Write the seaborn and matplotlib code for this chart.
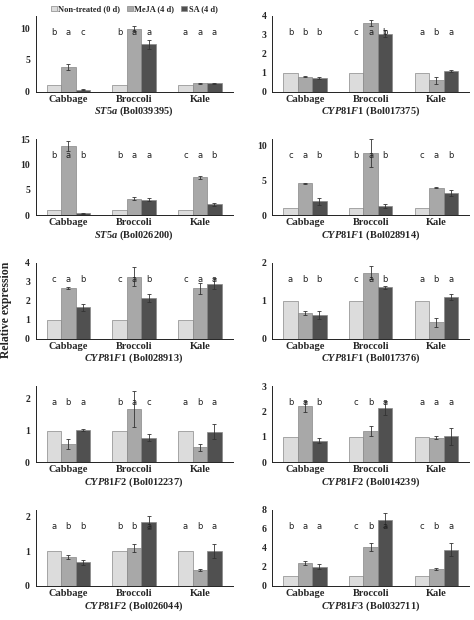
import numpy as np
import pandas as pd
import matplotlib
matplotlib.use("Agg")
import matplotlib.pyplot as plt
import seaborn as sns

sns.set_style("white")
plt.rcParams['font.family'] = ['Liberation Serif', 'DejaVu Serif']
plt.rcParams['mathtext.fontset'] = 'custom'
plt.rcParams['mathtext.it'] = 'Liberation Serif:italic:bold'
plt.rcParams['mathtext.rm'] = 'Liberation Serif:bold'

species = ['Cabbage', 'Broccoli', 'Kale']
treatments = ['Non-treated (0 d)', 'MeJA (4 d)', 'SA (4 d)']
colors = ['#dcdcdc', '#a8a8a8', '#505050']

genes = ['ST5a', 'CYP81F1', 'ST5a', 'CYP81F1', 'CYP81F1',
         'CYP81F1', 'CYP81F2', 'CYP81F2', 'CYP81F2', 'CYP81F3']
gene_ids = ['Bol039395', 'Bol017375', 'Bol026200', 'Bol028914', 'Bol028913',
            'Bol017376', 'Bol012237', 'Bol014239', 'Bol026044', 'Bol032711']

# means[panel][species][treatment]
means = [
    [[1, 3.9, 0.35], [1, 9.9, 7.5], [1, 1.3, 1.35]],
    [[1, 0.8, 0.73], [1, 3.6, 3.05], [1, 0.6, 1.08]],
    [[1, 13.6, 0.4], [1, 3.3, 3.1], [1, 7.5, 2.2]],
    [[1, 4.6, 2.0], [1, 9.0, 1.3], [1, 4.0, 3.2]],
    [[1, 2.65, 1.65], [1, 3.25, 2.15], [1, 2.65, 2.9]],
    [[1, 0.68, 0.62], [1, 1.73, 1.35], [1, 0.43, 1.1]],
    [[1, 0.57, 1.02], [1, 1.68, 0.78], [1, 0.47, 0.97]],
    [[1, 2.2, 0.85], [1, 1.25, 2.15], [1, 0.97, 1.03]],
    [[1, 0.83, 0.68], [1, 1.1, 1.83], [1, 0.47, 1.0]],
    [[1, 2.4, 2.0], [1, 4.1, 6.9], [1, 1.8, 3.8]],
]
errors = [
    [[0, 0.4, 0.05], [0, 0.4, 0.7], [0, 0.05, 0.1]],
    [[0, 0.05, 0.05], [0, 0.15, 0.2], [0, 0.18, 0.05]],
    [[0, 1.0, 0.1], [0, 0.3, 0.3], [0, 0.3, 0.3]],
    [[0, 0.1, 0.5], [0, 2.0, 0.3], [0, 0.1, 0.4]],
    [[0, 0.05, 0.2], [0, 0.5, 0.2], [0, 0.3, 0.3]],
    [[0, 0.05, 0.1], [0, 0.17, 0.04], [0, 0.12, 0.07]],
    [[0, 0.15, 0.04], [0, 0.57, 0.1], [0, 0.1, 0.23]],
    [[0, 0.2, 0.1], [0, 0.2, 0.27], [0, 0.07, 0.33]],
    [[0, 0.06, 0.08], [0, 0.12, 0.2], [0, 0.03, 0.2]],
    [[0, 0.2, 0.25], [0, 0.45, 0.7], [0, 0.1, 0.7]],
]
letters = [
    ['bac', 'baa', 'aaa'], ['bbb', 'cab', 'aba'], ['bab', 'baa', 'cab'],
    ['cab', 'bab', 'cab'], ['cab', 'cab', 'caa'], ['abb', 'cab', 'aba'],
    ['aba', 'bac', 'aba'], ['bab', 'cba', 'aaa'], ['abb', 'bba', 'aba'],
    ['baa', 'cba', 'cba'],
]
ylims = [12, 4, 15, 11, 4, 2, 2.4, 3, 2.2, 8]
yticks = [[0, 5, 10], [0, 1, 2, 3, 4], [0, 5, 10, 15], [0, 5, 10], [0, 1, 2, 3, 4],
          [0, 1, 2], [0, 1, 2], [0, 1, 2, 3], [0, 1, 2], [0, 2, 4, 6, 8]]

fig, axes = plt.subplots(5, 2, figsize=(4.74, 6.2), dpi=100)
fig.subplots_adjust(left=0.075, right=0.99, top=0.975, bottom=0.055, hspace=0.62, wspace=0.2)

for i, ax in enumerate(axes.flat):
    rows = []
    for s in range(3):
        for t in range(3):
            rows.append({'species': species[s], 'treatment': treatments[t],
                         'value': means[i][s][t], 'err': errors[i][s][t],
                         'letter': letters[i][s][t]})
    df = pd.DataFrame(rows)
    sns.barplot(data=df, x='species', y='value', hue='treatment', palette=colors,
                errorbar=None, width=0.66, edgecolor='#888888', linewidth=0.5,
                ax=ax, legend=(i == 0))
    bar_groups = list(ax.containers)[:3]
    for t, cont in enumerate(bar_groups):
        sub = df[df['treatment'] == treatments[t]]
        for bar, (_, r) in zip(cont, sub.iterrows()):
            xc = bar.get_x() + bar.get_width() / 2
            if r['err'] > 0:
                ax.errorbar(xc, r['value'], yerr=r['err'], color='#333333',
                            elinewidth=0.6, capsize=1.2, capthick=0.6)
            ax.text(xc, ylims[i] * 0.78, r['letter'], ha='center', va='center',
                    fontsize=6, family='DejaVu Sans', color='#222222')
    ax.set_ylim(0, ylims[i])
    ax.set_yticks(yticks[i])
    ax.set_yticklabels([str(v) for v in yticks[i]], fontsize=7, fontweight='bold')
    ax.set_xticks([0, 1, 2])
    ax.set_xticklabels(species, fontsize=7.5, fontweight='bold')
    ax.set_xticks([-0.5, 0.5, 1.5, 2.5], minor=True)
    ax.tick_params(axis='x', which='major', length=0, pad=2)
    ax.tick_params(axis='x', which='minor', length=3, direction='out', width=0.6)
    ax.tick_params(axis='y', length=3, width=0.6, pad=1)
    ax.set_xlim(-0.5, 2.5)
    ax.set_ylabel('')
    ax.set_xlabel(r'$\it{' + genes[i] + r'}$ (' + gene_ids[i] + ')', fontsize=7.5,
                  fontweight='bold', labelpad=1)
    sns.despine(ax=ax)
    for sp in ['left', 'bottom']:
        ax.spines[sp].set_linewidth(0.7)
        ax.spines[sp].set_color('#222222')
    if i == 0:
        ax.legend(loc='lower center', bbox_to_anchor=(0.5, 0.93), ncol=3,
                  frameon=False, handlelength=0.7, handletextpad=0.2, columnspacing=0.8,
                  prop={'weight': 'bold', 'size': 6})

fig.text(0.012, 0.5, 'Relative expression', rotation=90, va='center', ha='center',
         fontsize=8.5, fontweight='bold')
fig.savefig('out.png', dpi=100)
